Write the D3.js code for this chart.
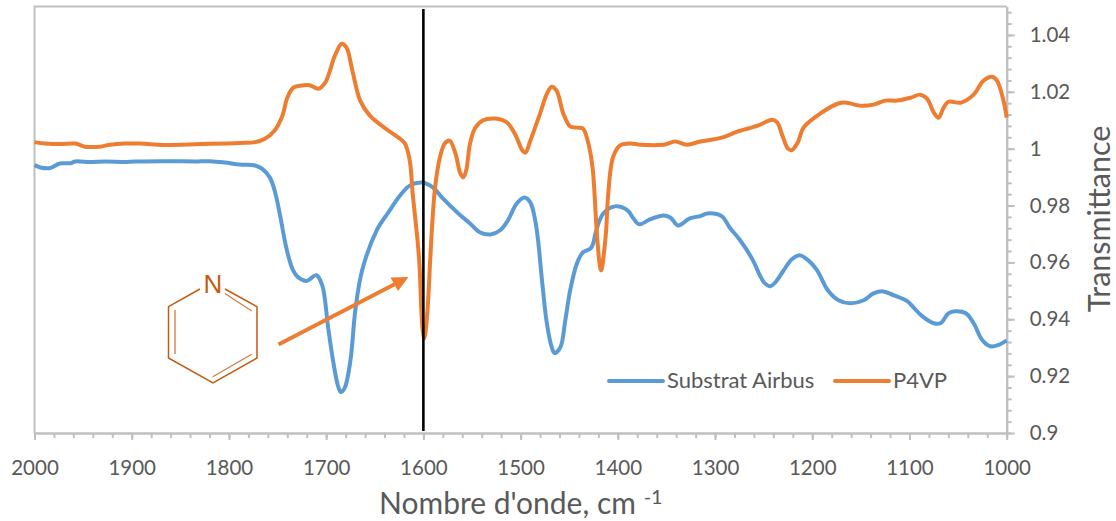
<!DOCTYPE html>
<html><head><meta charset="utf-8">
<script src="https://cdn.jsdelivr.net/npm/d3@7"></script>
<style>
html,body{margin:0;padding:0;background:#fff}
svg{display:block}
text{font-family:Lato,"Open Sans",sans-serif;fill:#595959}
</style></head><body>
<svg id="c" width="1116" height="521"></svg>
<script>
const blueWn=[2000,1994,1984,1974,1963,1958,1943,1927,1907,1897,1861,1835,1819,1804,1789,1773,1766,1758,1753,1747,1742,1738,1734,1729,1720,1710,1704,1698,1693,1688,1685,1681,1675,1670,1663,1648,1636,1624,1614,1601,1590,1580,1564,1552,1542,1531,1521,1513,1504,1496,1490,1485,1482,1478,1473,1468,1465,1459,1454,1449,1442,1436,1428,1425,1423,1415,1403,1390,1384,1378,1367,1353,1346,1338,1326,1315,1308,1293,1285,1274,1261,1254,1249,1243,1238,1230,1221,1213,1204,1195,1184,1173,1161,1147,1137,1127,1116,1102,1096,1087,1075,1068,1060,1053,1042,1034,1025,1017,1009,1000];
const blueT=[.9942,.9934,.9932,.9948,.9949,.9955,.9953,.9955,.9953,.9955,.9956,.9955,.9956,.9951,.9944,.9941,.9930,.9899,.9853,.9758,.9667,.9611,.9572,.9548,.9535,.9555,.9519,.9372,.9256,.9168,.9144,.9158,.9256,.9432,.9572,.9713,.9776,.9835,.9870,.9881,.9863,.9825,.9772,.9737,.9706,.9698,.9713,.9748,.9807,.9828,.9811,.9748,.9677,.9537,.9386,.9302,.9281,.9302,.9397,.9502,.9597,.9635,.9649,.9670,.9702,.9772,.9797,.9783,.9755,.9734,.9751,.9765,.9758,.9730,.9755,.9763,.9772,.9762,.9723,.9677,.9607,.9555,.9527,.9516,.9530,.9569,.9611,.9625,.9607,.9572,.9502,.9467,.9456,.9467,.9491,.9498,.9484,.9463,.9442,.9411,.9386,.9386,.9421,.9428,.9421,.9386,.9326,.9305,.9309,.9326];
const orangeWn=[2000,1989,1974,1958,1948,1933,1922,1907,1891,1866,1830,1789,1773,1763,1753,1745,1740,1734,1727,1717,1708,1701,1691,1684,1679,1673,1665,1655,1639,1624,1619,1614,1611,1606,1604,1601,1599,1596,1593,1591,1588,1583,1578,1573,1567,1562,1559,1556,1552,1547,1539,1526,1514,1506,1498,1495,1490,1480,1473,1468,1463,1456,1449,1442,1436,1431,1426,1423,1421,1418,1417,1414,1412,1410,1405,1398,1387,1377,1353,1341,1329,1315,1293,1277,1256,1241,1236,1230,1225,1221,1215,1209,1192,1174,1166,1150,1137,1125,1113,1099,1089,1082,1075,1070,1065,1060,1047,1034,1024,1015,1010,1004,1000];
const orangeT=[1.0023,1.0018,1.0016,1.0018,1.0007,1.0007,1.0014,1.0018,1.0018,1.0013,1.0016,1.0020,1.0023,1.0035,1.0064,1.0116,1.0179,1.0214,1.0221,1.0223,1.0211,1.0232,1.0327,1.0369,1.0355,1.0274,1.0169,1.0116,1.0071,1.0035,1.0018,.9958,.9842,.9677,.9590,.9372,.9333,.9421,.9607,.9730,.9863,.9969,1.0018,1.0028,.9983,.9913,.9899,.9923,1.0018,1.0071,1.0099,1.0106,1.0092,1.0053,.9993,.9986,1.0028,1.0123,1.0193,1.0218,1.0204,1.0123,1.0078,1.0074,1.0071,1.0028,.9934,.9783,.9677,.9579,.9572,.9642,.9713,.9835,.9969,1.0011,1.0018,1.0014,1.0014,1.0025,1.0014,1.0025,1.0039,1.0060,1.0081,1.0102,1.0092,1.0039,1.0000,.9995,1.0021,1.0074,1.0123,1.0158,1.0162,1.0151,1.0155,1.0169,1.0169,1.0179,1.0190,1.0176,1.0127,1.0109,1.0144,1.0165,1.0162,1.0190,1.0239,1.0253,1.0239,1.0179,1.0109];
const xMajor=[2000,1900,1800,1700,1600,1500,1400,1300,1200,1100,1000];
const xMinor=d3.range(2000,999,-20);
const yMajor=[0.9,0.92,0.94,0.96,0.98,1,1.02,1.04];
const yMinor=d3.range(0,38).map(i=>+(0.9+i*0.004).toFixed(3));
const seriesNames=["Substrat Airbus","P4VP"];
const seriesColors=["#5b9bd5","#ed7d31"];
const markerWn=1600;

const svg=d3.select("#c");
const L=34.5,R=1006.7,T=6.5,B=433;
const x=d3.scaleLinear().domain([2000,1000]).range([L,R]);
const y=d3.scaleLinear().domain([0.9,1.05]).range([B,T]);
const axisCol="#bfbfbf";

// plot frame
svg.append("path").attr("d",`M${L},${B}V${T}H${R}`).attr("fill","none").attr("stroke",axisCol).attr("stroke-width",2);

function style(g){g.select(".domain").attr("stroke",axisCol).attr("stroke-width",2);g.selectAll("line").attr("stroke",axisCol).attr("stroke-width",2);}
const gxm=svg.append("g").attr("transform",`translate(0,${B})`).call(d3.axisBottom(x).tickValues(xMinor).tickSize(5).tickFormat("").tickSizeOuter(0));style(gxm);
const gx=svg.append("g").attr("transform",`translate(0,${B})`).call(d3.axisBottom(x).tickValues(xMajor).tickSize(7).tickPadding(20).tickFormat(d3.format("d")).tickSizeOuter(0));style(gx);
gx.selectAll("text").attr("font-size",20.5).style("fill","#595959").style("font-family","Lato");
const gym=svg.append("g").attr("transform",`translate(${R},0)`).call(d3.axisRight(y).tickValues(yMinor).tickSize(5).tickFormat("").tickSizeOuter(0));style(gym);
const gy=svg.append("g").attr("transform",`translate(${R},0)`).call(d3.axisRight(y).tickValues(yMajor).tickSize(8).tickPadding(15).tickFormat(d=>String(+d.toFixed(2))).tickSizeOuter(0));style(gy);
gy.selectAll("text").attr("font-size",20.5).style("fill","#595959").style("font-family","Lato");

// curves
const line=d3.line().x(d=>x(d[0])).y(d=>y(d[1])).curve(d3.curveCatmullRom.alpha(0.5));
svg.append("path").attr("d",line(blueWn.map((w,i)=>[w,blueT[i]]))).attr("fill","none").attr("stroke",seriesColors[0]).attr("stroke-width",4).attr("stroke-linejoin","round");
svg.append("path").attr("d",line(orangeWn.map((w,i)=>[w,orangeT[i]]))).attr("fill","none").attr("stroke",seriesColors[1]).attr("stroke-width",4).attr("stroke-linejoin","round");

// vertical marker
svg.append("line").attr("x1",x(markerWn)).attr("x2",x(markerWn)).attr("y1",9).attr("y2",431).attr("stroke","#000").attr("stroke-width",2.6);

// arrow
svg.append("line").attr("x1",278.5).attr("y1",344.5).attr("x2",396).attr("y2",283.5).attr("stroke","#ed7d31").attr("stroke-width",4);
svg.append("path").attr("d","M408.5,277 L390.5,277.5 L398,291 Z").attr("fill","#ed7d31");

// pyridine
const py=svg.append("g").attr("fill","none").attr("stroke","#c55a11").attr("stroke-width",1.5);
py.append("path").attr("d","M200,289 L168.5,306.7 V358 L213,383 L257,358 V306.7 L225,289");
py.append("path").attr("d","M175,310 V354 M212.7,376.7 L251.7,354.3 M225,293.5 L251.7,311").attr("stroke-width",1.3).attr("stroke-opacity",.8);
svg.append("text").attr("x",213).attr("y",293).attr("text-anchor","middle").attr("font-size",26).style("fill","#c55a11").style("font-family","'Liberation Sans'").text("N");

// legend
const legY=381;
[[609,663,667],[835,889,893]].forEach((p,i)=>{
  svg.append("line").attr("x1",p[0]).attr("x2",p[1]).attr("y1",legY).attr("y2",legY).attr("stroke",seriesColors[i]).attr("stroke-width",4).attr("stroke-linecap","round");
  svg.append("text").attr("x",p[2]).attr("y",legY+7).attr("font-size",22).text(seriesNames[i]);
});

// titles
const xt=svg.append("text").attr("x",379).attr("y",514).attr("font-size",30);
xt.append("tspan").text("Nombre d'onde, cm ");
xt.append("tspan").attr("font-size",20).attr("dy",-10).text("-1");
svg.append("text").attr("transform","translate(1110,219) rotate(-90)").attr("text-anchor","middle").attr("font-size",30.5).text("Transmittance");
</script></body></html>
